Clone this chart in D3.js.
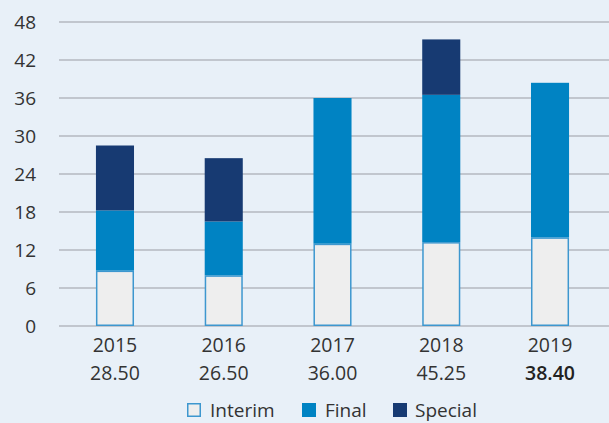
<!DOCTYPE html>
<html>
<head>
<meta charset="utf-8">
<script src="https://cdn.jsdelivr.net/npm/d3@7"></script>
<style>
  body { margin: 0; background: #e8f0f8; }
  svg { display: block; font-family: "Open Sans", sans-serif; }
</style>
</head>
<body>
<div id="chart"></div>
<script>
// chart data
const years = ['2015', '2016', '2017', '2018', '2019']
const interim = [8.75, 8.0, 13.0, 13.25, 14.0]
const final = [9.5, 8.5, 23.0, 23.25, 24.4]
const special = [10.25, 10.0, 0, 8.75, 0]
const totals = ['28.50', '26.50', '36.00', '45.25', '38.40']
const yTicks = [0, 6, 12, 18, 24, 30, 36, 42, 48]
const seriesNames = ['Interim', 'Final', 'Special']

const colors = { Interim: '#eeeeee', Final: '#0083c3', Special: '#173a72' }

const W = 609, H = 423
const margin = { top: 22, right: 0, bottom: 97, left: 59 }

const svg = d3.select('#chart')
    .append('svg')
    .attr('width', W)
    .attr('height', H)

const x = d3.scaleBand()
    .domain(years)
    .range([60.6, 604.4])
    .paddingInner(0.65)
    .paddingOuter(0.325)

const y = d3.scaleLinear()
    .domain([0, 48])
    .range([H - margin.bottom, margin.top])

// gridlines
svg.append('g')
    .selectAll('line')
    .data(yTicks)
    .join('line')
    .attr('x1', margin.left)
    .attr('x2', W)
    .attr('y1', d => y(d))
    .attr('y2', d => y(d))
    .attr('stroke', '#b5b9c0')
    .attr('stroke-width', 1.5)

// y tick labels
svg.append('g')
    .selectAll('text')
    .data(yTicks)
    .join('text')
    .attr('x', 36)
    .attr('y', d => y(d))
    .attr('dy', '0.35em')
    .attr('text-anchor', 'end')
    .attr('font-size', 19)
    .attr('fill', '#333')
    .text(d => d)

// stack the series
const rows = years.map((yr, i) => ({ year: yr, Interim: interim[i], Final: final[i], Special: special[i] }))
const stacked = d3.stack().keys(seriesNames)(rows)

const groups = svg.append('g')
    .selectAll('g')
    .data(stacked)
    .join('g')

groups.selectAll('rect')
    .data(s => s.map(d => ({ key: s.key, d })))
    .join('rect')
    .filter(r => r.d[1] > r.d[0])
    .attr('x', r => x(r.d.data.year) + (r.key === 'Interim' ? 0.75 : 0))
    .attr('width', r => x.bandwidth() - (r.key === 'Interim' ? 1.5 : 0))
    .attr('y', r => y(r.d[1]) + (r.key === 'Interim' ? 0.75 : 0))
    .attr('height', r => y(r.d[0]) - y(r.d[1]) - (r.key === 'Interim' ? 1.5 : 0))
    .attr('fill', r => colors[r.key])
    .attr('stroke', r => r.key === 'Interim' ? '#3d97cf' : 'none')
    .attr('stroke-width', 1.5)

// year labels and totals
svg.append('g')
    .selectAll('text')
    .data(years)
    .join('text')
    .attr('x', d => x(d) + x.bandwidth() / 2)
    .attr('y', 352)
    .attr('text-anchor', 'middle')
    .attr('font-size', 19.5)
    .attr('fill', '#333')
    .text(d => d)

svg.append('g')
    .selectAll('text')
    .data(totals)
    .join('text')
    .attr('x', (d, i) => x(years[i]) + x.bandwidth() / 2)
    .attr('y', 380)
    .attr('text-anchor', 'middle')
    .attr('font-size', 19.5)
    .attr('font-weight', (d, i) => i === totals.length - 1 ? 600 : 400)
    .attr('fill', (d, i) => i === totals.length - 1 ? '#222' : '#333')
    .text(d => d)

// legend
const legendX = [187, 302, 393]
const legend = svg.append('g')
    .selectAll('g')
    .data(seriesNames)
    .join('g')
    .attr('transform', (d, i) => 'translate(' + legendX[i] + ',403)')

legend.append('rect')
    .attr('x', d => d === 'Interim' ? 0.75 : 0)
    .attr('y', d => d === 'Interim' ? 0.75 : 0)
    .attr('width', d => d === 'Interim' ? 12.5 : 14)
    .attr('height', d => d === 'Interim' ? 12.5 : 14)
    .attr('fill', d => colors[d])
    .attr('stroke', d => d === 'Interim' ? '#3d97cf' : 'none')
    .attr('stroke-width', 1.5)

legend.append('text')
    .attr('x', d => d === 'Special' ? 22 : 23)
    .attr('y', 7)
    .attr('dy', '0.35em')
    .attr('font-size', 19)
    .attr('fill', '#333')
    .text(d => d)
</script>
</body>
</html>
